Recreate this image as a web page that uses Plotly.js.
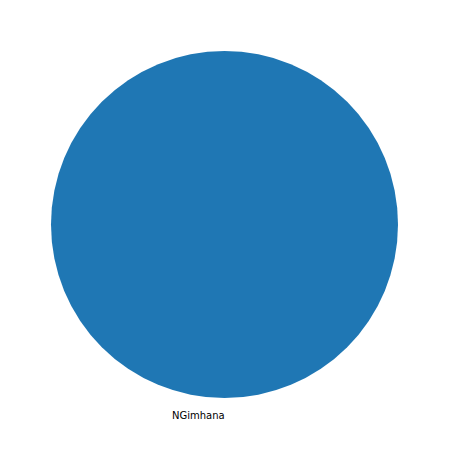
<!DOCTYPE html>
<html>
<head>
<meta charset="utf-8">
<script src="https://cdn.plot.ly/plotly-3.0.1.min.js"></script>
<style>html,body{margin:0;padding:0;background:#fff;}#chart{width:449px;height:449px;}</style>
</head>
<body>
<div id="chart"></div>
<script>
const labels = ["NGimhana"];
const values = [1];
const colors = ["#1f77b4"];

const trace = {
  type: "pie",
  labels: labels,
  values: values,
  marker: {colors: colors, line: {width: 0}},
  textinfo: "none",
  hoverinfo: "label+value",
  sort: false,
  showlegend: false,
  domain: {x: [51/449, 398/449], y: [51/449, 398/449]}
};

const layout = {
  width: 449,
  height: 449,
  margin: {l: 0, r: 0, t: 0, b: 0},
  paper_bgcolor: "#ffffff",
  showlegend: false,
  annotations: labels.map(function (l) {
    return {
      text: l,
      x: 198/449, y: 1 - 415/449,
      xref: "paper", yref: "paper",
      showarrow: false,
      xanchor: "center", yanchor: "middle",
      font: {family: "DejaVu Sans", size: 10, color: "#000000"}
    };
  })
};

Plotly.newPlot("chart", [trace], layout, {displayModeBar: false, staticPlot: true});
</script>
</body>
</html>
